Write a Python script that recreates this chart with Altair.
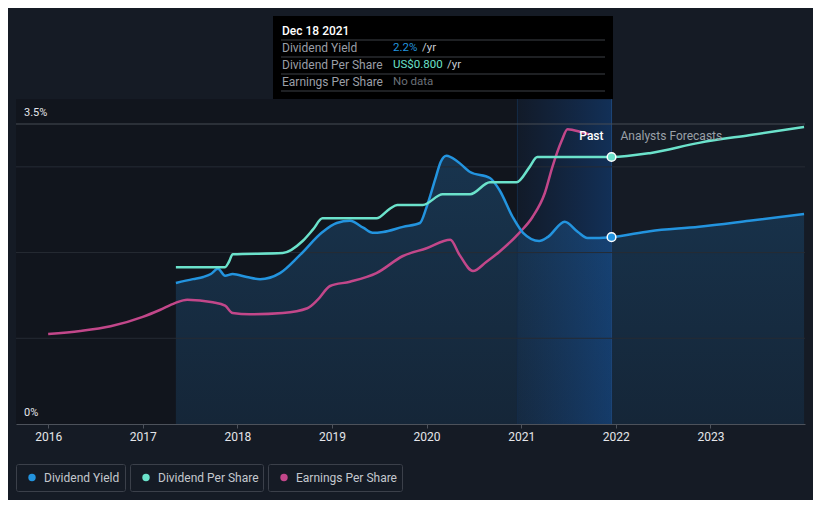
import altair as alt
import pandas as pd

# ---------------- data ----------------
yield_years = [2017.35, 2017.53, 2017.64, 2017.72, 2017.795, 2017.87, 2017.95, 2018.10, 2018.24,
               2018.45, 2018.66, 2018.90, 2019.05, 2019.19, 2019.33, 2019.43, 2019.54, 2019.75,
               2019.93, 2020.00, 2020.09, 2020.15, 2020.21, 2020.33, 2020.46, 2020.67, 2020.77,
               2020.91, 2021.02, 2021.19, 2021.28, 2021.46, 2021.60, 2021.70, 2021.955,
               2022.36, 2022.88, 2023.41, 2023.99]
yield_vals = [1.645, 1.69, 1.715, 1.75, 1.81, 1.73, 1.75, 1.715, 1.69,
              1.76, 1.97, 2.24, 2.345, 2.37, 2.29, 2.23, 2.24, 2.30,
              2.345, 2.53, 2.85, 3.06, 3.13, 3.06, 2.94, 2.87, 2.73,
              2.415, 2.23, 2.135, 2.18, 2.36, 2.24, 2.17, 2.18,
              2.25, 2.30, 2.37, 2.45]

dps_years = [2017.35, 2017.87, 2017.91, 2017.95, 2018.48, 2018.69, 2018.80, 2018.90, 2019.47,
             2019.61, 2019.69, 2019.96, 2020.17, 2020.46, 2020.67, 2020.95, 2021.09, 2021.17,
             2021.955, 2022.36, 2022.88, 2023.41, 2023.99]
dps_vals = [1.83, 1.83, 1.89, 1.98, 1.995, 2.135, 2.27, 2.40, 2.40,
            2.51, 2.555, 2.555, 2.68, 2.68, 2.82, 2.82, 3.00, 3.115,
            3.115, 3.16, 3.28, 3.37, 3.465]

eps_years = [2016.0, 2016.34, 2016.66, 2017.0, 2017.18, 2017.34, 2017.47, 2017.74, 2017.87,
             2017.95, 2018.13, 2018.48, 2018.74, 2018.85, 2018.98, 2019.19, 2019.47, 2019.75,
             2020.0, 2020.25, 2020.35, 2020.49, 2020.63, 2020.77, 2020.98, 2021.12, 2021.25,
             2021.33, 2021.43, 2021.49, 2021.65, 2021.72]
eps_vals = [1.05, 1.085, 1.14, 1.25, 1.33, 1.41, 1.45, 1.42, 1.38,
            1.295, 1.28, 1.295, 1.35, 1.45, 1.61, 1.66, 1.76, 1.96,
            2.05, 2.15, 1.97, 1.785, 1.89, 2.01, 2.23, 2.415, 2.695,
            3.00, 3.31, 3.44, 3.40, 3.38]

tick_years = [2016, 2017, 2018, 2019, 2020, 2021, 2022, 2023]
x_domain = [2015.66, 2024.0]
y_domain = [0, 3.5]
grid_levels = [1, 2, 3]
top_level = 3.5
y_labels = ["0%", "3.5%"]
y_label_vals = [0, 3.5]
hover_year = 2021.955
past_start = 2020.96
hover_yield = 2.18
hover_dps = 3.115

tooltip_title = "Dec 18 2021"
tooltip_names = ["Dividend Yield", "Dividend Per Share", "Earnings Per Share"]
tooltip_values = ["2.2%", "US$0.800", "No data"]
tooltip_units = ["/yr", "/yr", ""]

legend_names = ["Dividend Yield", "Dividend Per Share", "Earnings Per Share"]

# ---------------- styles / layout ----------------
BLUE = "#2394df"
TEAL = "#6be2cb"
PINK = "#c2478a"
BG = "#151b25"
FONT = "Roboto"

tt_value_colors = [BLUE, TEAL, "#6b7078"]
legend_colors = [BLUE, TEAL, PINK]
# tooltip / legend layout in plot pixels
tt_box = (257, 597, -108, -25)
tt_sep_y = [-84, -67, -50, -33]
tt_row_y = [-76, -59, -42]
tt_unit_x = [406, 431, 0]
legend_box_x = [(0, 109), (114, 247), (252, 386)]
legend_y = (340, 367)

W, H = 789, 300

yield_df = pd.DataFrame({"year": yield_years, "value": yield_vals})
dps_df = pd.DataFrame({"year": dps_years, "value": dps_vals})
eps_df = pd.DataFrame({"year": eps_years, "value": eps_vals})

xscale = alt.Scale(domain=x_domain, nice=False, zero=False)
yscale = alt.Scale(domain=y_domain, nice=False, zero=False)

X = alt.X("year:Q", scale=xscale, title=None,
          axis=alt.Axis(values=tick_years, format="d", labelColor="#e4e6ea", labelFontSize=12,
                        labelFont=FONT, tickColor="#4d525b", tickSize=4, domainColor="#4d525b",
                        grid=False, labelPadding=3, zindex=1))
Y = alt.Y("value:Q", scale=yscale, axis=None)
X2 = alt.X2("year2:Q")
Y2 = alt.Y2("value2:Q")

regions = pd.DataFrame({"year": [x_domain[0]], "year2": [hover_year], "value": [0], "value2": [3.79]})
dark_bg = alt.Chart(regions).mark_rect(color="#11151d").encode(x=X, x2=X2, y=Y, y2=Y2)

area = alt.Chart(yield_df).mark_area(
    interpolate="monotone",
    color=alt.Gradient(gradient="linear", x1=0, x2=0, y1=0, y2=1,
                       stops=[alt.GradientStop(color="#18344e", offset=0),
                              alt.GradientStop(color="#152638", offset=1)])
).encode(x=X, y=Y)

band_df = pd.DataFrame({"year": [past_start], "year2": [hover_year], "value": [0], "value2": [3.79]})
band = alt.Chart(band_df).mark_rect(
    color=alt.Gradient(gradient="linear", x1=0, x2=1, y1=0, y2=0,
                       stops=[alt.GradientStop(color="rgba(25,90,180,0.08)", offset=0),
                              alt.GradientStop(color="rgba(20,100,200,0.34)", offset=1)])
).encode(x=X, x2=X2, y=Y, y2=Y2)

edge_df = pd.DataFrame({"year": [past_start, hover_year], "value": [0, 0], "value2": [3.79, 3.79],
                        "c": ["a", "b"]})
edges = alt.Chart(edge_df).mark_rule(strokeWidth=1).encode(
    x=X, y=Y, y2=Y2,
    color=alt.Color("c:N", scale=alt.Scale(domain=["a", "b"], range=["#152c48", "#1d4678"]), legend=None))

grid = alt.Chart(pd.DataFrame({"value": grid_levels})).mark_rule(color="#262b34", strokeWidth=1).encode(y=Y)
top_grid = alt.Chart(pd.DataFrame({"value": [top_level]})).mark_rule(color="#474c55", strokeWidth=1).encode(y=Y)

ylab = alt.Chart(pd.DataFrame({"year": [x_domain[0]] * 2, "value": y_label_vals, "label": y_labels})).mark_text(
    align="left", baseline="alphabetic", dx=8, dy=-8, color="#e4e6ea", fontSize=11, font=FONT
).encode(x=X, y=Y, text="label:N")

line_eps = alt.Chart(eps_df).mark_line(color=PINK, strokeWidth=2.5, interpolate="monotone").encode(x=X, y=Y)
line_yield = alt.Chart(yield_df).mark_line(color=BLUE, strokeWidth=2.5, interpolate="monotone").encode(x=X, y=Y)
line_dps = alt.Chart(dps_df).mark_line(color=TEAL, strokeWidth=2.5, interpolate="monotone").encode(x=X, y=Y)

dots_df = pd.DataFrame({"year": [hover_year, hover_year], "value": [hover_yield, hover_dps], "s": ["y", "d"]})
dots = alt.Chart(dots_df).mark_point(filled=True, size=75, stroke="white", strokeWidth=1.5, opacity=1).encode(
    x=X, y=Y,
    fill=alt.Fill("s:N", scale=alt.Scale(domain=["y", "d"], range=[BLUE, TEAL]), legend=None))

lbl_df = pd.DataFrame({"year": [hover_year], "value": [top_level]})
past_lbl = alt.Chart(lbl_df).mark_text(align="right", baseline="middle", dx=-8, dy=12, color="#ffffff",
                                       fontSize=12, font=FONT, fontWeight=500, text="Past").encode(x=X, y=Y)
fc_lbl = alt.Chart(lbl_df).mark_text(align="left", baseline="middle", dx=9, dy=12, color="#9aa0a8",
                                     fontSize=12, font=FONT, text="Analysts Forecasts").encode(x=X, y=Y)

one = alt.Data(values=[{"a": 1}])

layers = [dark_bg, area, band, edges, grid, top_grid, ylab, line_eps, line_yield, line_dps, dots,
          past_lbl, fc_lbl]

# tooltip
layers.append(alt.Chart(one).mark_rect(color="#000000").encode(
    x=alt.value(tt_box[0]), x2=alt.value(tt_box[1]), y=alt.value(tt_box[2]), y2=alt.value(tt_box[3])))
for sy in tt_sep_y:
    layers.append(alt.Chart(one).mark_rule(color="#3d4047", strokeWidth=1).encode(
        x=alt.value(tt_box[0] + 8), x2=alt.value(tt_box[1] - 8), y=alt.value(sy)))
layers.append(alt.Chart(one).mark_text(align="left", baseline="middle", color="#ffffff", fontSize=12,
                                      font=FONT, fontWeight=500, text=tooltip_title).encode(
    x=alt.value(tt_box[0] + 9), y=alt.value(-93)))
for i, name in enumerate(tooltip_names):
    layers.append(alt.Chart(one).mark_text(align="left", baseline="middle", color="#9a9ea6", fontSize=12,
                                          font=FONT, text=name).encode(
        x=alt.value(tt_box[0] + 9), y=alt.value(tt_row_y[i])))
    layers.append(alt.Chart(one).mark_text(align="left", baseline="middle", color=tt_value_colors[i],
                                          fontSize=11.5, font=FONT, text=tooltip_values[i]).encode(
        x=alt.value(tt_box[0] + 120), y=alt.value(tt_row_y[i])))
    if tooltip_units[i]:
        layers.append(alt.Chart(one).mark_text(align="left", baseline="middle", color="#c8ccd2",
                                              fontSize=11.5, font=FONT, text=tooltip_units[i]).encode(
            x=alt.value(tt_unit_x[i]), y=alt.value(tt_row_y[i])))

# legend
for i, name in enumerate(legend_names):
    x0, x1 = legend_box_x[i]
    layers.append(alt.Chart(one).mark_rect(fill=BG, stroke="#3b404a", strokeWidth=1, cornerRadius=2).encode(
        x=alt.value(x0 + 0.5), x2=alt.value(x1 + 0.5), y=alt.value(legend_y[0] + 0.5),
        y2=alt.value(legend_y[1] + 0.5)))
    layers.append(alt.Chart(one).mark_point(filled=True, size=55, color=legend_colors[i], opacity=1).encode(
        x=alt.value(x0 + 16), y=alt.value((legend_y[0] + legend_y[1]) / 2)))
    layers.append(alt.Chart(one).mark_text(align="left", baseline="middle", color="#c4c8ce", fontSize=12,
                                          font=FONT, text=name).encode(
        x=alt.value(x0 + 28), y=alt.value((legend_y[0] + legend_y[1]) / 2)))

chart = alt.layer(*layers).properties(
    width=W, height=H,
    autosize=alt.AutoSizeParams(type="none"),
    padding={"left": 8, "top": 116, "right": 8, "bottom": 76},
    background=BG,
).configure_view(stroke=None)

chart.save("out.html", embed_options={"renderer": "svg", "actions": False})
